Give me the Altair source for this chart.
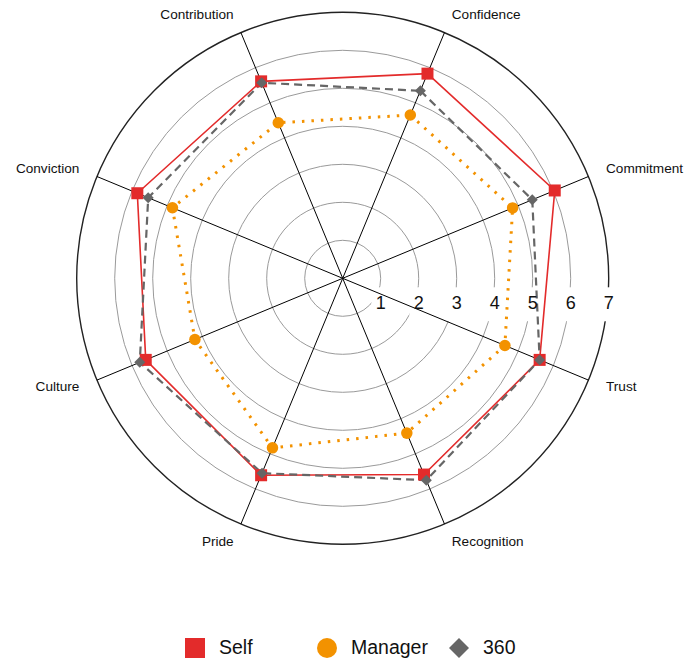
import altair as alt
import pandas as pd

# ---------------- data ----------------
categories = ["Confidence", "Commitment", "Trust", "Recognition",
              "Pride", "Culture", "Conviction", "Contribution"]
series_names = ["Self", "Manager", "360"]
self_values = [5.83, 6.04, 5.61, 5.59, 5.61, 5.61, 5.85, 5.61]
manager_values = [4.65, 4.84, 4.62, 4.41, 4.83, 4.21, 4.85, 4.43]
values_360 = [5.34, 5.40, 5.61, 5.75, 5.55, 5.78, 5.54, 5.57]
ticks = [1, 2, 3, 4, 5, 6, 7]

colors = ["#e32b2b", "#f39200", "#666666"]
shapes = ["square", "circle", "diamond"]
FONT = "Liberation Sans"

# ---------------- layout ----------------
UNIT = 38.0            # px per value unit
CX, CY = 334.7, 270.3  # centre inside the plot area
W, H = 677, 650
RMAX = ticks[-1]
N = len(categories)
xdom = [-CX / UNIT, (W - CX) / UNIT]
ydom = [(CY - H) / UNIT, CY / UNIT]


def X(field):
    return alt.X(field, type="quantitative", axis=None,
                 scale=alt.Scale(domain=xdom, nice=False, zero=False))


def Y(field):
    return alt.Y(field, type="quantitative", axis=None,
                 scale=alt.Scale(domain=ydom, nice=False, zero=False))


rows = []
for s, vals in zip(series_names, [self_values, manager_values, values_360]):
    for i, (c, v) in enumerate(zip(categories, vals)):
        rows.append(dict(series=s, category=c, idx=i, value=v))
    rows.append(dict(series=s, category=categories[0], idx=N, value=vals[0]))
df = pd.DataFrame(rows)

cat_df = pd.DataFrame({"category": categories, "idx": list(range(N))})
tick_df = pd.DataFrame({"tick": ticks})

angle_expr = f"(datum.idx * 360 / {N} + 180 / {N}) * PI / 180"

base = alt.Chart(df).transform_calculate(
    ang=angle_expr
).transform_calculate(
    px="datum.value * sin(datum.ang)",
    py="datum.value * cos(datum.ang)",
)

# circle diameter = sqrt(size) -> pow(2) scale maps value radius to pixel diameter
ring_size = alt.Size("tick:Q", legend=None,
                     scale=alt.Scale(type="pow", exponent=2, domain=[0, RMAX],
                                     range=[0, (2 * RMAX * UNIT) ** 2], zero=True))

tick_base = alt.Chart(tick_df).transform_calculate(c0="0")

grid = tick_base.transform_filter(f"datum.tick < {RMAX}").mark_point(
    shape="circle", filled=False, stroke="#9a9a9a", strokeWidth=1, opacity=1
).encode(x=X("c0"), y=Y("c0"), size=ring_size)

outer = tick_base.transform_filter(f"datum.tick == {RMAX}").mark_point(
    shape="circle", filled=False, stroke="#222222", strokeWidth=1.4, opacity=1
).encode(x=X("c0"), y=Y("c0"), size=ring_size)

boxes = alt.Chart(tick_df).mark_point(
    shape="M-0.55,-1L0.55,-1L0.55,1L-0.55,1Z", size=34 * 34, filled=True,
    color="white", opacity=1, strokeWidth=0
).encode(x=X("tick"), y=alt.value(CY + 26))

spokes = alt.Chart(cat_df).transform_calculate(
    ang=angle_expr
).transform_calculate(
    x0="0", y0="0",
    xe=f"{RMAX} * sin(datum.ang)", ye=f"{RMAX} * cos(datum.ang)",
).mark_rule(color="black", strokeWidth=1).encode(
    x=X("x0"), y=Y("y0"), x2="xe:Q", y2="ye:Q"
)

line_self = base.transform_filter("datum.series == 'Self'").mark_line(
    color=colors[0], strokeWidth=1.6
).encode(x=X("px"), y=Y("py"), order="idx:Q")

line_mgr = base.transform_filter("datum.series == 'Manager'").mark_line(
    color=colors[1], strokeWidth=3, strokeDash=[2.5, 7]
).encode(x=X("px"), y=Y("py"), order="idx:Q")

line_360 = base.transform_filter("datum.series == '360'").mark_line(
    color=colors[2], strokeWidth=2.2, strokeDash=[8, 5]
).encode(x=X("px"), y=Y("py"), order="idx:Q")

points = base.transform_filter(f"datum.idx < {N}").mark_point(
    filled=True, opacity=1
).encode(
    x=X("px"), y=Y("py"),
    color=alt.Color("series:N", scale=alt.Scale(domain=series_names, range=colors),
                    legend=alt.Legend(title=None, orient="none", legendX=177, legendY=630,
                                      direction="horizontal", columns=3, gridAlign="all",
                                      columnPadding=21, labelFontSize=19.5, labelFont=FONT,
                                      labelColor="#111", symbolSize=400, labelOffset=14,
                                      symbolStrokeWidth=0, padding=0)),
    shape=alt.Shape("series:N", scale=alt.Scale(domain=series_names, range=shapes)),
    size=alt.Size("series:N", scale=alt.Scale(domain=series_names, range=[144, 121, 130]),
                  legend=None),
)

tick_text = alt.Chart(tick_df).mark_text(
    fontSize=18, font=FONT, color="#111", baseline="middle", align="center"
).encode(x=X("tick"), y=alt.value(CY + 26), text="tick:Q")

lab_base = alt.Chart(cat_df).transform_calculate(
    ang=angle_expr
).transform_calculate(
    lx=f"{RMAX + 0.5} * sin(datum.ang)", ly=f"{RMAX + 0.5} * cos(datum.ang)",
)
labels_right = lab_base.transform_filter("datum.lx > 0").mark_text(
    fontSize=13.6, font=FONT, color="#111", align="left", baseline="middle"
).encode(x=X("lx"), y=Y("ly"), text="category:N")
labels_left = lab_base.transform_filter("datum.lx < 0").mark_text(
    fontSize=13.6, font=FONT, color="#111", align="right", baseline="middle"
).encode(x=X("lx"), y=Y("ly"), text="category:N")

chart = alt.layer(
    grid, outer, boxes, spokes, line_self, line_mgr, line_360, points,
    tick_text, labels_right, labels_left
).resolve_scale(size="independent").properties(
    width=W, height=H, padding=0, autosize="none"
).configure(font=FONT).configure_view(strokeWidth=0, stroke="transparent")

chart.save("out.html", embed_options={"renderer": "svg", "actions": False})
